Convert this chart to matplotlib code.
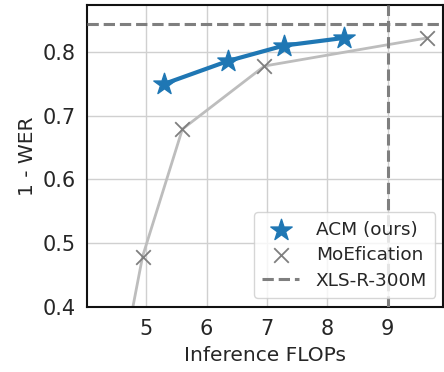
import matplotlib
matplotlib.use("Agg")
import matplotlib.pyplot as plt

acm_flops = [5.30, 6.36, 7.28, 8.27]
acm_score = [0.750, 0.786, 0.810, 0.822]
moe_flops = [4.60, 4.94, 5.60, 6.96, 9.65]
moe_score = [0.311, 0.479, 0.679, 0.778, 0.822]
baseline_flops = 9.0
baseline_score = 0.844
xticks = [5, 6, 7, 8, 9]
yticks = [0.4, 0.5, 0.6, 0.7, 0.8]

plt.rcParams['font.family'] = ['DejaVu Sans']
fig = plt.figure(figsize=(4.44, 3.72), dpi=100)
ax = fig.add_axes([0.196, 0.175, 0.802, 0.812])

ax.grid(True, color='#d0d0d0', linewidth=1.0, zorder=0)
ax.set_axisbelow(True)

ax.plot(moe_flops, moe_score, color='#bdbdbd', linewidth=2.0, zorder=2)
ax.scatter(moe_flops, moe_score, marker='x', s=110, color='#7f7f7f', linewidths=1.3,
           zorder=3, label='MoEfication')
ax.plot(acm_flops, acm_score, color='#1f77b4', linewidth=3.0, zorder=4)
ax.scatter(acm_flops, acm_score, marker='*', s=260, color='#1f77b4', zorder=5,
           label='ACM (ours)')
ax.axhline(baseline_score, color='#7f7f7f', linestyle='--', linewidth=2.2, zorder=3,
           label='XLS-R-300M')
ax.axvline(baseline_flops, color='#7f7f7f', linestyle='--', linewidth=2.2, zorder=3)

ax.set_xlim(4.02, 9.92)
ax.set_ylim(0.4, 0.874)
ax.set_xticks(xticks)
ax.set_yticks(yticks)
ax.set_yticklabels([f"{v:.1f}" for v in yticks])
ax.tick_params(labelsize=15, colors='#262626', length=0)
ax.tick_params(axis='y', pad=8)
ax.tick_params(axis='x', pad=9)
ax.set_xlabel('Inference FLOPs', fontsize=14.5, color='#262626', labelpad=5)
ax.set_ylabel('1 - WER', fontsize=14.5, color='#262626', labelpad=4)
for s in ax.spines.values():
    s.set_color('#111111')
    s.set_linewidth(1.5)

handles, labels = ax.get_legend_handles_labels()
order = [labels.index('ACM (ours)'), labels.index('MoEfication'), labels.index('XLS-R-300M')]
leg = ax.legend([handles[i] for i in order], [labels[i] for i in order],
                loc='lower right', fontsize=13.3, frameon=True, framealpha=0.8,
                edgecolor='#cccccc', borderpad=0.45, handletextpad=0.9,
                labelspacing=0.4, borderaxespad=0,
                bbox_to_anchor=(0.978, 0.03))
for t in leg.get_texts():
    t.set_color('#262626')

fig.savefig('out.png', dpi=100)
